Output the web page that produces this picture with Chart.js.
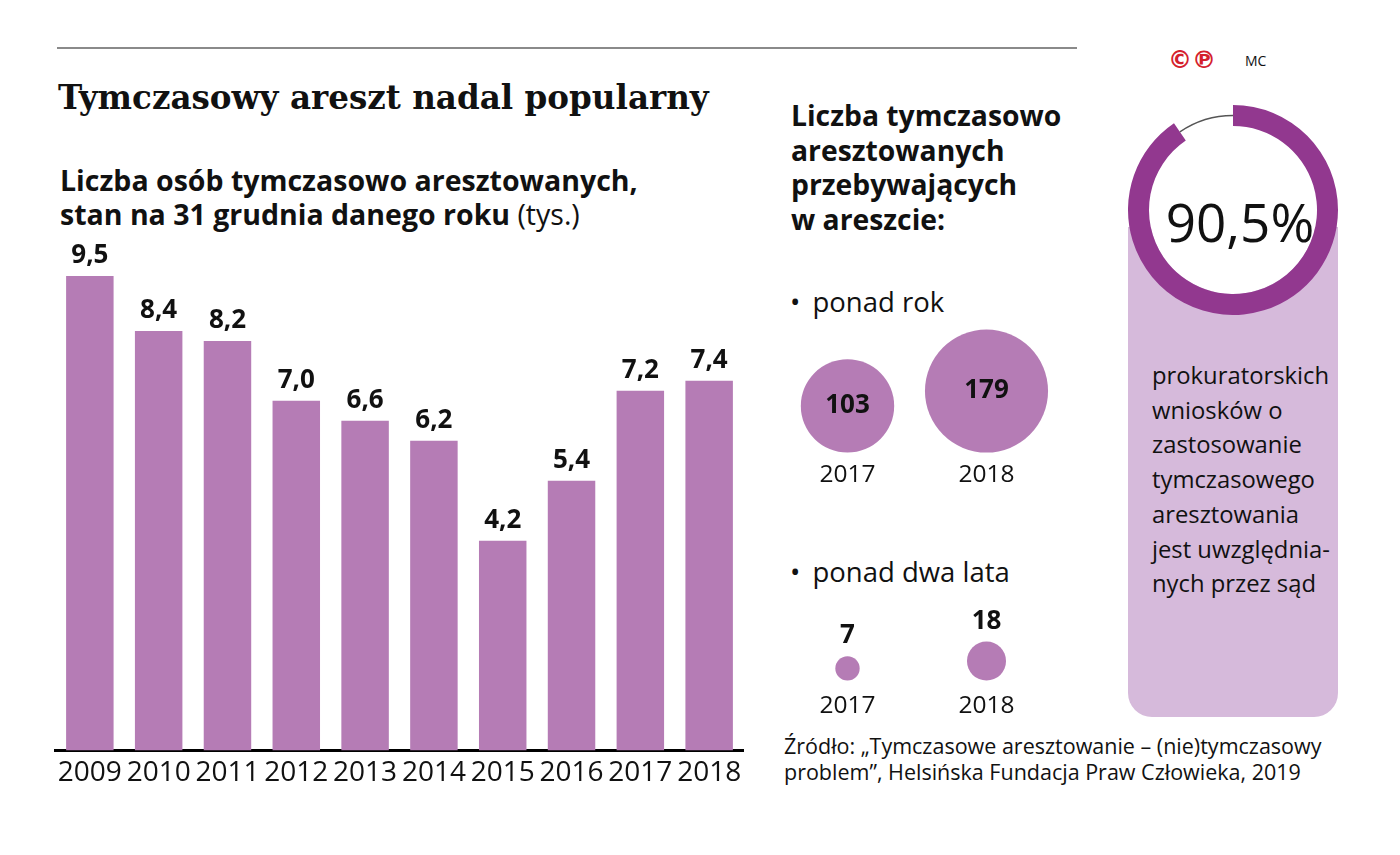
<!DOCTYPE html>
<html lang="pl">
<head>
<meta charset="utf-8">
<title>Tymczasowy areszt nadal popularny</title>
<script src="https://cdn.jsdelivr.net/npm/chart.js@4.4.1/dist/chart.umd.min.js"></script>
<style>
  body { margin:0; width:1400px; height:855px; background:#fff; position:relative; overflow:hidden;
         font-family:"Open Sans", sans-serif; color:#111; }
  .abs { position:absolute; white-space:nowrap; }
  #rule { left:57px; top:47px; width:1020px; height:2px; background:#8a8a8a; }
  #title { left:58px; top:78px; font-family:"DejaVu Serif", serif; font-weight:bold; font-size:32.6px; line-height:40px; }
  #subtitle { left:60px; top:163px; font-size:28.5px; font-weight:bold; line-height:34px; }
  #subtitle span { font-weight:normal; }
  #midHead { left:791px; top:98px; font-size:28.3px; font-weight:bold; line-height:34.7px; }
  .bullet { left:790px; font-size:27.5px; line-height:34px; }
  .bullet b { font-weight:normal; margin-right:5px; }
  #panel { left:1128px; top:227px; width:210px; height:490px; background:#d6badb; border-radius:0 0 24px 24px; }
  #panelText { left:1152px; top:358px; font-size:23.8px; line-height:34.7px; }
  #pct { left:1142px; top:192px; width:196px; text-align:center; font-size:53px; line-height:60px; }
  #source { left:784px; top:733px; font-size:21.5px; line-height:26px; }
  #cp { left:1168px; top:46px; font-family:"DejaVu Sans", sans-serif; font-weight:bold; font-size:24px; line-height:28px; color:#d4202c; }
  #mc { left:1245px; top:52px; font-size:14px; line-height:18px; }
  canvas { position:absolute; }
</style>
</head>
<body>
<div id="rule" class="abs"></div>
<div id="title" class="abs">Tymczasowy areszt nadal popularny</div>
<div id="subtitle" class="abs">Liczba osób tymczasowo aresztowanych,<br>stan na 31 grudnia danego roku <span>(tys.)</span></div>
<div id="midHead" class="abs">Liczba tymczasowo<br>aresztowanych<br>przebywających<br>w areszcie:</div>
<div class="abs bullet" style="top:285px"><b>•</b> ponad rok</div>
<div class="abs bullet" style="top:555px"><b>•</b> ponad dwa lata</div>
<div id="panel" class="abs"></div>
<div id="panelText" class="abs">prokuratorskich<br>wniosków o<br>zastosowanie<br>tymczasowego<br>aresztowania<br>jest uwzględnia-<br>nych przez sąd</div>
<div id="source" class="abs">Źródło: „Tymczasowe aresztowanie – (nie)tymczasowy<br>problem”, Helsińska Fundacja Praw Człowieka, 2019</div>
<div id="cp" class="abs">©℗</div>
<div id="mc" class="abs">MC</div>

<canvas id="bars" width="695" height="574" style="left:52px; top:222px"></canvas>
<canvas id="rowOne" width="278" height="179" style="left:778px; top:319px"></canvas>
<canvas id="rowTwo" width="278" height="128" style="left:778px; top:604px"></canvas>
<canvas id="ring" width="210" height="210" style="left:1128px; top:105px"></canvas>
<div id="pct" class="abs"></div>

<script>
// Data
const years = ['2009', '2010', '2011', '2012', '2013', '2014', '2015', '2016', '2017', '2018'];
const detainees = [9.5, 8.4, 8.2, 7.0, 6.6, 6.2, 4.2, 5.4, 7.2, 7.4]; // tys.
const bubbleYears = ['2017', '2018'];
const overOneYear = [103, 179];
const overTwoYears = [7, 18];
const acceptedShare = [90.5, 9.5]; // % uwzględnionych wniosków

// Colours
const barColor = '#b57cb5';
const ringColor = '#92388f';

Chart.defaults.font.family = '"Open Sans", sans-serif';
Chart.defaults.color = '#111';

const fmt = v => v.toFixed(1).replace('.', ',');

// Value labels over the bars
const barLabels = {
    id: 'barLabels',
    afterDatasetsDraw(chart) {
        const ctx = chart.ctx;
        const meta = chart.getDatasetMeta(0);
        ctx.save();
        ctx.font = 'bold 26px "Open Sans", sans-serif';
        ctx.fillStyle = '#111';
        ctx.textAlign = 'center';
        ctx.textBaseline = 'alphabetic';
        meta.data.forEach((bar, i) => {
            ctx.fillText(fmt(detainees[i]), bar.x, bar.y - 13);
        });
        ctx.restore();
    }
};

new Chart(document.getElementById('bars'), {
    type: 'bar',
    data: {
        labels: years,
        datasets: [{
            data: detainees,
            backgroundColor: barColor,
            borderWidth: 0,
            categoryPercentage: 1,
            barPercentage: 0.69
        }]
    },
    options: {
        responsive: false,
        animation: false,
        layout: { padding: { top: 29, left: 0, right: 0, bottom: 0 } },
        plugins: { legend: { display: false }, tooltip: { enabled: false } },
        scales: {
            x: {
                grid: { display: false, drawTicks: false },
                border: { display: true, color: '#000', width: 3 },
                ticks: { font: { size: 28 }, padding: 6, maxRotation: 0, autoSkip: false }
            },
            y: { display: false, min: 0, max: 10 }
        }
    },
    plugins: [barLabels]
});

// Bubbles sit on a common baseline: lift each one by its radius
const bubbleLift = {
    id: 'bubbleLift',
    afterDatasetsUpdate(chart) {
        const meta = chart.getDatasetMeta(0);
        const pts = chart.data.datasets[0].data;
        meta.data.forEach((el, i) => { el.y -= pts[i].r; });
    },
    afterDatasetsDraw(chart) {
        const ctx = chart.ctx;
        const meta = chart.getDatasetMeta(0);
        const pts = chart.data.datasets[0].data;
        ctx.save();
        ctx.font = 'bold 26px "Open Sans", sans-serif';
        ctx.fillStyle = '#111';
        ctx.textAlign = 'center';
        meta.data.forEach((el, i) => {
            const r = pts[i].r;
            if (r > 30) {
                ctx.textBaseline = 'middle';
                ctx.fillText(pts[i].v, el.x, el.y);
            } else {
                ctx.textBaseline = 'alphabetic';
                ctx.fillText(pts[i].v, el.x, el.y - r - 13);
            }
        });
        ctx.restore();
    }
};

function bubbleRow(id, values, gap) {
    return new Chart(document.getElementById(id), {
        type: 'bubble',
        data: {
            labels: bubbleYears,
            datasets: [{
                data: values.map((v, i) => ({ x: bubbleYears[i], y: 0, r: 4.6 * Math.sqrt(v), v: v })),
                backgroundColor: barColor,
                borderWidth: 0,
                clip: false
            }]
        },
        options: {
            responsive: false,
            animation: false,
            layout: { padding: 0, autoPadding: false },
            plugins: { legend: { display: false }, tooltip: { enabled: false } },
            scales: {
                x: {
                    type: 'category',
                    offset: true,
                    grid: { display: false, drawTicks: false },
                    border: { display: false },
                    ticks: { font: { size: 24.5 }, padding: gap }
                },
                y: { display: false, min: 0, max: 1 }
            }
        },
        plugins: [bubbleLift]
    });
}

bubbleRow('rowOne', overOneYear, 8);
bubbleRow('rowTwo', overTwoYears, 11);

// Ring: white centre + thin line for the remainder
const ringExtras = {
    id: 'ringExtras',
    beforeDatasetsDraw(chart) {
        const arc = chart.getDatasetMeta(0).data[0];
        const ctx = chart.ctx;
        ctx.save();
        ctx.beginPath();
        ctx.arc(arc.x, arc.y, arc.innerRadius, 0, Math.PI * 2);
        ctx.fillStyle = '#fff';
        ctx.fill();
        ctx.restore();
    },
    afterDatasetsDraw(chart) {
        const rest = chart.getDatasetMeta(0).data[1];
        const ctx = chart.ctx;
        ctx.save();
        ctx.beginPath();
        ctx.arc(rest.x, rest.y, (rest.innerRadius + rest.outerRadius) / 2, rest.startAngle, rest.endAngle);
        ctx.strokeStyle = '#555';
        ctx.lineWidth = 1.3;
        ctx.stroke();
        ctx.restore();
    }
};

new Chart(document.getElementById('ring'), {
    type: 'doughnut',
    data: {
        datasets: [{
            data: acceptedShare,
            backgroundColor: [ringColor, 'rgba(0,0,0,0)'],
            borderWidth: 0,
            hoverOffset: 0
        }]
    },
    options: {
        responsive: false,
        animation: false,
        cutout: '80%',
        layout: { padding: 0 },
        plugins: { legend: { display: false }, tooltip: { enabled: false } }
    },
    plugins: [ringExtras]
});

document.getElementById('pct').textContent = fmt(acceptedShare[0]) + '%';
</script>
</body>
</html>
